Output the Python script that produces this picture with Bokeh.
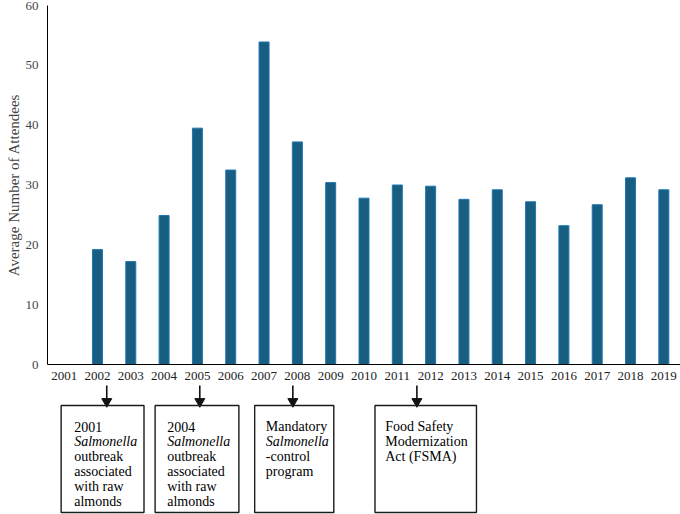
import numpy as np
from bokeh.plotting import figure
from bokeh.layouts import column
from bokeh.models import FactorRange, Range1d
from bokeh.core.properties import value
from bokeh.embed import file_html
from bokeh.resources import INLINE

# ---------------- data ----------------
years = [str(y) for y in range(2001, 2020)]
attendees = [np.nan, 19.2, 17.2, 24.9, 39.5, 32.5, 53.9, 37.2, 30.4, 27.8,
             30.0, 29.8, 27.6, 29.2, 27.2, 23.2, 26.7, 31.2, 29.2]

event_years = ["2001", "2004", "2007", "2011"]
event_lines = [
    ["2001", "Salmonella", "outbreak", "associated", "with raw", "almonds"],
    ["2004", "Salmonella", "outbreak", "associated", "with raw", "almonds"],
    ["Mandatory", "Salmonella", "-control", "program"],
    ["Food Safety", "Modernization", "Act (FSMA)"],
]
italic_words = ["Salmonella"]

# ---------------- layout / style ----------------
FNAME = "Liberation Serif"
BAR_COLOR = "#185e80"
W, H_TOP, H_BOT = 680, 382, 132
LEFT = 47
box_left_off = [-49, -48, -41, -45]
box_right_off = [40, 42, 44, 64]
text_pad = [14, 13, 12, 11]

# ---------------- top chart ----------------
p = figure(x_range=FactorRange(factors=years), y_range=Range1d(0, 60),
           width=W, height=H_TOP, min_border_left=LEFT, min_border_right=0,
           toolbar_location=None, output_backend="svg")
p.vbar(x=years, top=attendees, width=0.3, fill_color=BAR_COLOR)

p.outline_line_color = None
p.xgrid.visible = False
p.ygrid.visible = False

p.yaxis.axis_label = "Average Number of Attendees"
p.yaxis.axis_label_text_font = FNAME
p.yaxis.axis_label_text_font_style = "normal"
p.yaxis.axis_label_text_font_size = "15px"
p.yaxis.axis_label_standoff = 1
p.yaxis.major_tick_line_color = None
p.yaxis.minor_tick_line_color = None
p.yaxis.major_tick_out = 0
p.yaxis.minor_tick_out = 0
p.yaxis.major_label_standoff = 9
p.yaxis.major_label_text_font = FNAME
p.yaxis.major_label_text_font_size = "13px"

p.xaxis.major_tick_line_color = None
p.xaxis.major_tick_out = 0
p.xaxis.major_label_standoff = 7
p.xaxis.major_label_text_font = FNAME
p.xaxis.major_label_text_font_size = "13px"
p.xaxis.major_label_text_color = "#222222"

# ---------------- annotation strip (y = px below strip top, drawn upward) ----
q = figure(width=W, height=H_BOT, x_range=Range1d(0, W),
           y_range=Range1d(0, H_BOT), min_border=0,
           toolbar_location=None, output_backend="svg",
           x_axis_location=None, y_axis_location=None)
q.outline_line_color = None
q.xgrid.visible = False
q.ygrid.visible = False

step = (W - LEFT) / len(years)
def cx(year):
    return LEFT + (years.index(year) + 0.5) * step

def yy(px):
    return H_BOT - px

ax, bl, br = [], [], []
nx, ny, nt = [], [], []
ix, iy, it = [], [], []
for i, (yr, lines) in enumerate(zip(event_years, event_lines)):
    x = cx(yr)
    ax.append(x)
    bl.append(x + box_left_off[i]); br.append(x + box_right_off[i])
    for j, line in enumerate(lines):
        tx = x + box_left_off[i] + text_pad[i]
        ty = yy(44 + 15 * j)
        if line in italic_words:
            ix.append(tx); iy.append(ty); it.append(line)
        else:
            nx.append(tx); ny.append(ty); nt.append(line)

q.segment(x0=ax, y0=[yy(3)] * len(ax), x1=ax, y1=[yy(17)] * len(ax),
          line_color="#111111", line_width=1.6)
q.scatter(x=ax, y=[yy(19)] * len(ax), marker="inverted_triangle", size=10,
          fill_color="#111111", line_color="#111111")
q.quad(left=bl, right=br, top=[yy(23)] * len(bl), bottom=[yy(130)] * len(bl),
       fill_alpha=0, line_color="#1a1a1a", line_width=1.4)
q.text(x=nx, y=ny, text=nt, text_font=value(FNAME),
       text_font_size=value("14px"), text_baseline="alphabetic")
q.text(x=ix, y=iy, text=it, text_font=value(FNAME),
       text_font_size=value("14px"), text_font_style="italic",
       text_baseline="alphabetic")

layout = column(p, q)
open("out.html", "w").write(file_html(layout, INLINE))
